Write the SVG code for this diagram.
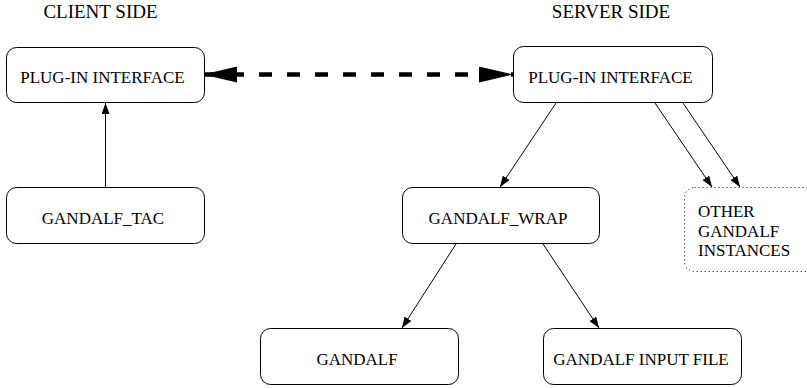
<svg xmlns="http://www.w3.org/2000/svg" width="807" height="388" viewBox="0 0 807 388">
<style>
.box{fill:#fff;stroke:#000;stroke-width:1}
.dot{fill:#fff;stroke:#000;stroke-width:1;stroke-dasharray:1 3}
.t{font-family:"Liberation Serif","Times New Roman",serif;font-size:17px;fill:#000}
.title{font-family:"Liberation Serif","Times New Roman",serif;font-size:19px;fill:#000}
.c{text-anchor:middle}
.ln{stroke:#000;stroke-width:1;fill:none;marker-end:url(#ah)}
</style>
<defs>
<marker id="ah" markerUnits="userSpaceOnUse" markerWidth="11" markerHeight="8" refX="11" refY="4" orient="auto">
<path d="M0,0 L11,4 L0,8 z" fill="#000"/>
</marker>
<marker id="big" markerUnits="userSpaceOnUse" markerWidth="34" markerHeight="16" refX="34" refY="8" orient="auto-start-reverse">
<path d="M0,0 L34,8 L0,16 z" fill="#000"/>
</marker>
</defs>
<text class="title c" x="100.5" y="18">CLIENT SIDE</text>
<text class="title c" x="611" y="18">SERVER SIDE</text>
<g id="connectors">
<line x1="203" y1="74.5" x2="513" y2="74.5" stroke="#000" stroke-width="4.5" stroke-dasharray="13 15" marker-start="url(#big)" marker-end="url(#big)"/>
<line class="ln" x1="105.5" y1="187" x2="105.5" y2="103"/>
<line class="ln" x1="556" y1="103" x2="500" y2="187"/>
<line class="ln" x1="655" y1="103" x2="712" y2="187"/>
<line class="ln" x1="683" y1="103" x2="740" y2="187"/>
<line class="ln" x1="456" y1="244" x2="402" y2="328"/>
<line class="ln" x1="543" y1="244" x2="599" y2="328"/>
</g>
<g id="client-plugin">
<rect class="box" x="6.5" y="47.5" width="198" height="55" rx="10"/>
<text class="t c" x="102.5" y="82.5">PLUG-IN INTERFACE</text>
</g>
<g id="gandalf-tac">
<rect class="box" x="6.5" y="187.5" width="198" height="56" rx="10"/>
<text class="t c" x="103" y="224">GANDALF_TAC</text>
</g>
<g id="server-plugin">
<rect class="box" x="513.5" y="46.5" width="199" height="56" rx="10"/>
<text class="t c" x="610.5" y="82.5">PLUG-IN INTERFACE</text>
</g>
<g id="gandalf-wrap">
<rect class="box" x="402.5" y="187.5" width="197" height="56" rx="10"/>
<text class="t c" x="498" y="224">GANDALF_WRAP</text>
</g>
<g id="other-instances">
<rect class="dot" x="684.5" y="187.5" width="140" height="84" rx="10"/>
<text class="t" x="698" y="217">OTHER</text>
<text class="t" x="698" y="237">GANDALF</text>
<text class="t" x="698" y="256">INSTANCES</text>
</g>
<g id="gandalf">
<rect class="box" x="260.5" y="328.5" width="198" height="56" rx="10"/>
<text class="t c" x="357" y="364.5">GANDALF</text>
</g>
<g id="gandalf-input">
<rect class="box" x="543.5" y="328.5" width="198" height="56" rx="10"/>
<text class="t c" x="641" y="364.5">GANDALF INPUT FILE</text>
</g>
</svg>
